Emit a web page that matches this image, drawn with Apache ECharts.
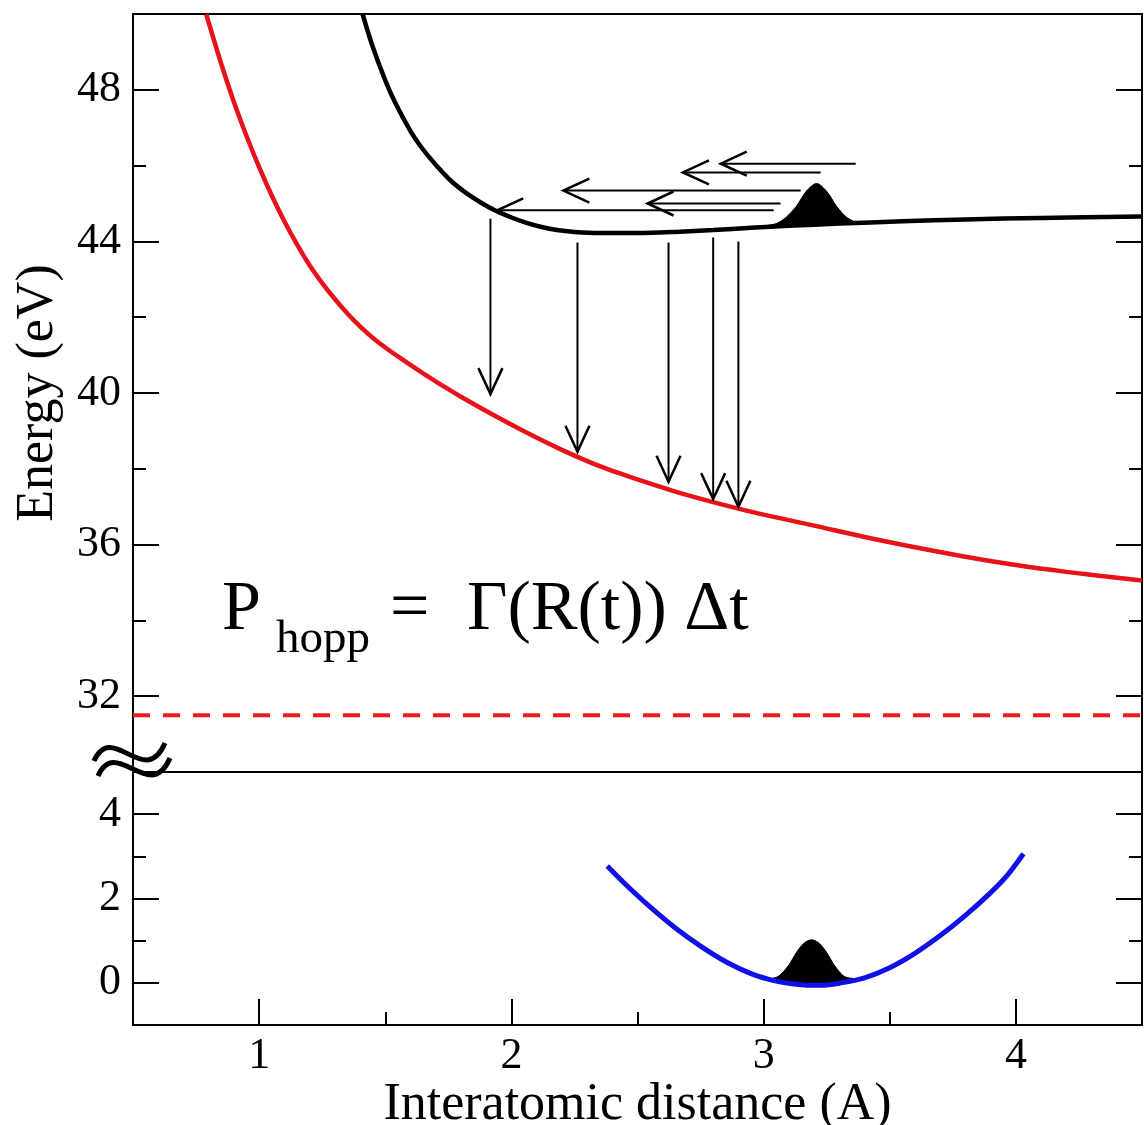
<!DOCTYPE html>
<html>
<head>
<meta charset="utf-8">
<script src="https://cdn.jsdelivr.net/npm/echarts@6/dist/echarts.min.js"></script>
<style>
html,body{margin:0;padding:0;background:#fff;}
#c{width:1144px;height:1125px;}
</style>
</head>
<body>
<div id="c"></div>
<script>
// ---------- data ----------
const xMin = 0.5, xMax = 4.5;
const topYMin = 30, topYMax = 50;
const botYMin = -1, botYMax = 5;
const topMajor = [32, 36, 40, 44, 48];
const topMinor = [34, 38, 42, 46];
const botMajor = [0, 2, 4];
const botMinor = [1, 3];
const xMajor = [1, 2, 3, 4];
const xMinor = [1.5, 2.5, 3.5];

// upper excited-state curve (black)
const blackX = [1.41,1.45,1.50,1.54,1.60,1.64,1.70,1.76,1.82,1.88,1.94,2.00,2.06,2.12,2.18,2.25,2.35,2.50,2.65,2.80,2.95,3.10,3.30,3.55,3.80,4.10,4.50];
const blackY = [50.0,49.14,48.25,47.65,46.91,46.51,46.02,45.6,45.28,45.02,44.80,44.63,44.49,44.38,44.30,44.25,44.22,44.22,44.25,44.30,44.36,44.41,44.47,44.53,44.58,44.62,44.66];

// repulsive curve (red)
const redX = [0.79,0.85,0.90,0.95,1.00,1.05,1.10,1.15,1.20,1.25,1.30,1.35,1.40,1.45,1.50,1.56,1.65,1.75,1.80,1.92,2.05,2.20,2.35,2.50,2.65,2.80,2.90,3.00,3.20,3.40,3.60,3.80,4.00,4.20,4.50];
const redY = [50.0,48.68,47.68,46.78,45.96,45.21,44.53,43.92,43.37,42.9,42.48,42.1,41.76,41.46,41.2,40.92,40.52,40.1,39.9,39.45,38.99,38.5,38.07,37.72,37.4,37.12,36.95,36.79,36.5,36.2,35.93,35.68,35.46,35.28,35.05];

// asymptote (red dashed)
const dashX = [0.5, 4.5];
const dashY = [31.5, 31.5];

// ground-state curve (blue)
const blueX = [2.38,2.45,2.55,2.65,2.75,2.85,2.95,3.05,3.12,3.19,3.25,3.30,3.40,3.50,3.60,3.70,3.80,3.90,3.97,4.03];
const blueY = [2.77,2.35,1.80,1.30,0.87,0.50,0.22,0.04,-0.03,-0.06,-0.05,-0.01,0.12,0.36,0.70,1.12,1.60,2.14,2.58,3.06];

// wave packet on upper curve
const upPackX = [3.00,3.05,3.09,3.13,3.17,3.21,3.25,3.29,3.33,3.37,3.41];
const upPackBase = [44.38,44.39,44.40,44.42,44.43,44.44,44.45,44.46,44.47,44.48,44.49];
const upPackTop = [44.40,44.47,44.64,44.93,45.33,45.53,45.32,44.92,44.63,44.50,44.49];

// wave packet on ground curve
const lowPackX = [3.02,3.06,3.10,3.13,3.16,3.19,3.22,3.25,3.28,3.32,3.37];
const lowPackBase = [0.07,0.02,-0.01,-0.04,-0.05,-0.06,-0.06,-0.05,-0.03,0.00,0.08];
const lowPackTop = [0.08,0.16,0.42,0.72,0.94,1.02,0.94,0.72,0.42,0.15,0.09];

// horizontal arrows [xTail, y, xTip, y]
const hArrows = [
  [3.365, 46.05, 2.83, 46.05],
  [3.226, 45.82, 2.68, 45.82],
  [3.147, 45.34, 2.206, 45.34],
  [3.067, 45.00, 2.54, 45.00],
  [3.04, 44.82, 1.944, 44.82]
];
// vertical arrows [x, yTail, x, yTip]
const vArrows = [
  [1.917, 44.6, 1.917, 39.97],
  [2.262, 43.97, 2.262, 38.45],
  [2.623, 43.97, 2.623, 37.66],
  [2.80, 44.1, 2.80, 37.2],
  [2.90, 44.0, 2.90, 37.0]
];

// ---------- chart ----------
const FONT = "'Liberation Serif','Times New Roman',serif";
const zip = (a, b) => a.map((v, i) => [v, b[i]]);

function yAxisSet(grid, min, max, major, minor, withLabel, name) {
  const base = {
    type: 'value', gridIndex: grid, min: min, max: max,
    axisLine: {show: false, onZero: false}, splitLine: {show: false}
  };
  const tickStyle = {color: '#000', width: 2};
  return [
    Object.assign({}, base, {
      position: 'left',
      axisTick: {show: true, inside: true, length: 26, customValues: major, lineStyle: tickStyle},
      axisLabel: withLabel ? {show: true, customValues: major, fontSize: 44, fontFamily: FONT, color: '#000', margin: 12} : {show: false},
      name: name || '',
      nameLocation: 'middle', nameGap: 69,
      nameTextStyle: {fontSize: 52, fontFamily: FONT, color: '#000'}
    }),
    Object.assign({}, base, {
      position: 'left',
      axisTick: {show: true, inside: true, length: 13, customValues: minor, lineStyle: tickStyle},
      axisLabel: {show: false}
    }),
    Object.assign({}, base, {
      position: 'right',
      axisTick: {show: true, inside: true, length: 26, customValues: major, lineStyle: tickStyle},
      axisLabel: {show: false}
    }),
    Object.assign({}, base, {
      position: 'right',
      axisTick: {show: true, inside: true, length: 13, customValues: minor, lineStyle: tickStyle},
      axisLabel: {show: false}
    })
  ];
}

function arrowRender(params, api) {
  const p1 = api.coord([api.value(0), api.value(1)]);
  const p2 = api.coord([api.value(2), api.value(3)]);
  const dx = p2[0] - p1[0], dy = p2[1] - p1[1];
  const len = Math.hypot(dx, dy) || 1;
  const ux = dx / len, uy = dy / len, nx = -uy, ny = ux;
  const L = 26, W = 12;
  const bx = p2[0] - ux * L, by = p2[1] - uy * L;
  return {
    type: 'group',
    children: [
      {type: 'line', shape: {x1: p1[0], y1: p1[1], x2: p2[0], y2: p2[1]}, style: {stroke: '#000', lineWidth: 2}},
      {type: 'polyline', shape: {points: [[bx + nx * W, by + ny * W], [p2[0], p2[1]], [bx - nx * W, by - ny * W]]},
       style: {stroke: '#000', lineWidth: 2.5, fill: null}}
    ]
  };
}

function packetRender(xs, base, top) {
  return function (params, api) {
    if (params.dataIndex !== 0) return null;
    const pts = [];
    for (let i = 0; i < xs.length; i++) pts.push(api.coord([xs[i], top[i]]));
    for (let i = xs.length - 1; i >= 0; i--) pts.push(api.coord([xs[i], base[i]]));
    return {type: 'polygon', shape: {points: pts, smooth: 0.3}, style: {fill: '#000', stroke: '#000', lineWidth: 1}};
  };
}

const chart = echarts.init(document.getElementById('c'), null, {renderer: 'canvas'});

const gridBase = {left: 133, right: 2, show: true, borderColor: '#000', borderWidth: 2,
  backgroundColor: 'transparent', containLabel: false, outerBoundsMode: 'none'};

const option = {
  backgroundColor: '#fff',
  animation: false,
  grid: [
    Object.assign({}, gridBase, {top: 14, height: 758}),
    Object.assign({}, gridBase, {top: 772, height: 253})
  ],
  xAxis: [
    {type: 'value', gridIndex: 0, min: xMin, max: xMax, axisLine: {show: false, onZero: false}, axisTick: {show: false}, axisLabel: {show: false}, splitLine: {show: false}},
    {type: 'value', gridIndex: 1, min: xMin, max: xMax, position: 'bottom',
     axisLine: {show: false, onZero: false}, splitLine: {show: false},
     axisTick: {show: true, inside: true, length: 26, customValues: xMajor, lineStyle: {color: '#000', width: 2}},
     axisLabel: {show: true, customValues: xMajor, fontSize: 44, fontFamily: FONT, color: '#000', margin: 9},
     name: 'Interatomic distance (A)', nameLocation: 'middle', nameGap: 52,
     nameTextStyle: {fontSize: 52, fontFamily: FONT, color: '#000'}},
    {type: 'value', gridIndex: 1, min: xMin, max: xMax, position: 'bottom',
     axisLine: {show: false, onZero: false}, splitLine: {show: false},
     axisTick: {show: true, inside: true, length: 13, customValues: xMinor, lineStyle: {color: '#000', width: 2}},
     axisLabel: {show: false}}
  ],
  yAxis: [].concat(
    yAxisSet(0, topYMin, topYMax, topMajor, topMinor, true, 'Energy (eV)'),
    yAxisSet(1, botYMin, botYMax, botMajor, botMinor, true, '')
  ),
  series: [
    {type: 'line', xAxisIndex: 0, yAxisIndex: 0, data: zip(dashX, dashY), showSymbol: false, silent: true,
     lineStyle: {color: '#ee1c1c', width: 4, type: [17, 13]}},
    {type: 'line', xAxisIndex: 0, yAxisIndex: 0, data: zip(redX, redY), showSymbol: false, smooth: 0.3, clip: true,
     lineStyle: {color: '#e8121a', width: 4.5}},
    {type: 'custom', xAxisIndex: 0, yAxisIndex: 0, data: upPackX.map((x, i) => [x, upPackTop[i]]),
     renderItem: packetRender(upPackX, upPackBase, upPackTop), z: 3},
    {type: 'line', xAxisIndex: 0, yAxisIndex: 0, data: zip(blackX, blackY), showSymbol: false, smooth: 0.3, clip: true,
     lineStyle: {color: '#000', width: 4.5}, z: 4},
    {type: 'custom', xAxisIndex: 0, yAxisIndex: 0, data: hArrows, encode: {x: [0, 2], y: [1, 3]}, renderItem: arrowRender, z: 5},
    {type: 'custom', xAxisIndex: 0, yAxisIndex: 0, data: vArrows, encode: {x: [0, 2], y: [1, 3]}, renderItem: arrowRender, z: 5},
    {type: 'custom', xAxisIndex: 1, yAxisIndex: 4, data: lowPackX.map((x, i) => [x, lowPackTop[i]]),
     renderItem: packetRender(lowPackX, lowPackBase, lowPackTop), z: 3},
    {type: 'line', xAxisIndex: 1, yAxisIndex: 4, data: zip(blueX, blueY), showSymbol: false, smooth: 0.3,
     lineStyle: {color: '#1010e8', width: 5}, z: 4}
  ],
  graphic: [
    {type: 'text', left: 222, top: 576, style: {text: 'P', font: '70px ' + FONT, fill: '#000'}},
    {type: 'text', left: 276, top: 616, style: {text: 'hopp', font: '47px ' + FONT, fill: '#000'}},
    {type: 'text', left: 390, top: 576, style: {text: '=', font: '70px ' + FONT, fill: '#000'}},
    {type: 'text', left: 467, top: 576, style: {text: 'Γ(R(t)) Δt', font: '70px ' + FONT, fill: '#000'}},
    {type: 'bezierCurve', shape: {x1: 94, y1: 761, cpx1: 112, cpy1: 720, cpx2: 145, cpy2: 790, x2: 165, y2: 743},
     style: {stroke: '#000', lineWidth: 5, fill: null}, z: 10},
    {type: 'bezierCurve', shape: {x1: 98, y1: 776, cpx1: 116, cpy1: 735, cpx2: 150, cpy2: 805, x2: 170, y2: 758},
     style: {stroke: '#000', lineWidth: 5, fill: null}, z: 10}
  ]
};
chart.setOption(option);
</script>
</body>
</html>
